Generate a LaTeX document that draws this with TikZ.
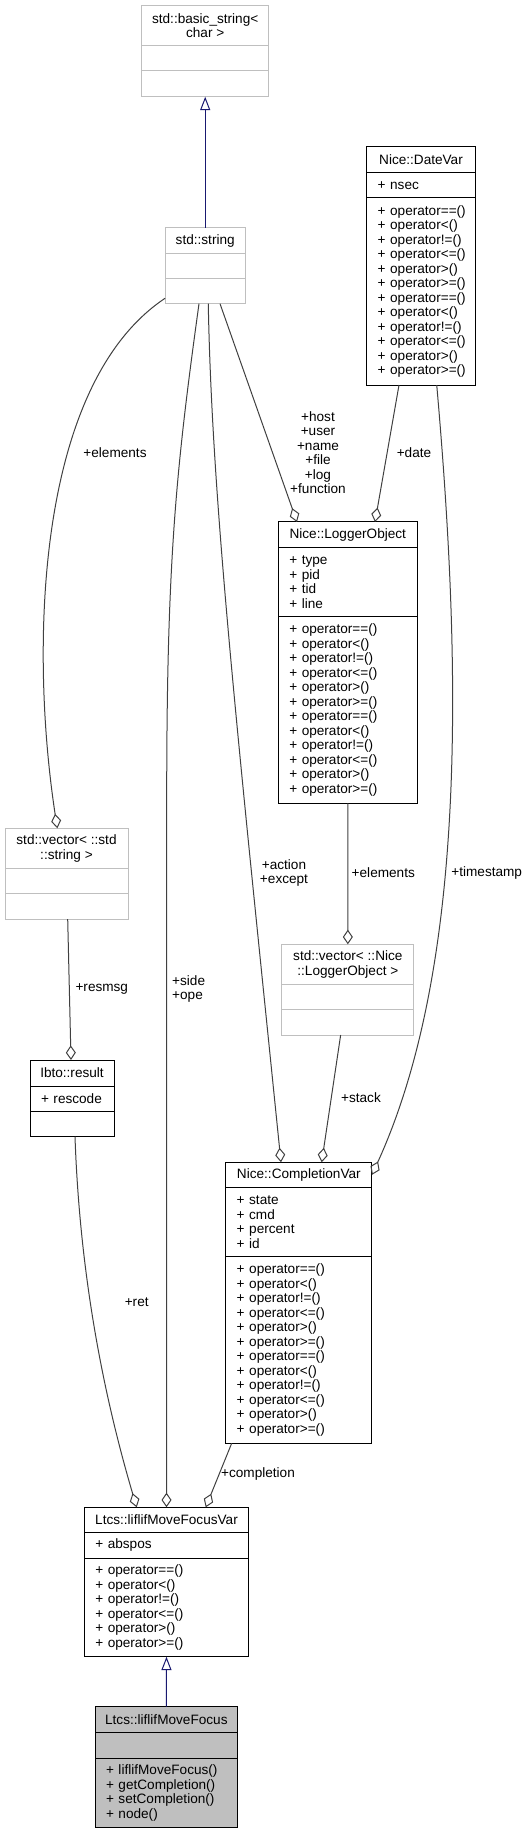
\documentclass[tikz,border=0pt]{standalone}
\usepackage{fontspec}
\setmainfont{Liberation Sans}
\usetikzlibrary{positioning,arrows.meta}

\definecolor{edgegray}{HTML}{404040}
\definecolor{boxgray}{HTML}{BFBFBF}
\definecolor{inhblue}{HTML}{191970}

\hyphenpenalty=10000
\newcommand{\cmpops}{\mbox{+ operator==()}\\\mbox{+ operator<()}\\\mbox{+ operator!=()}\\\mbox{+ operator<=()}\\\mbox{+ operator>()}\\\mbox{+ operator>=()}}

\tikzset{every picture/.style={line width=0.75pt}}
\tikzset{
  umltext/.style={font=\fontsize{10.2}{10.875}\selectfont},
  head/.style={umltext, draw=black, fill=white, align=center, inner sep=0pt, outer sep=0pt},
  part/.style={umltext, draw=black, fill=white, align=left, inner xsep=8.25pt, inner ysep=0pt, outer sep=0pt},
  ghead/.style={head, draw=boxgray},
  gpart/.style={part, draw=boxgray},
  member/.style={draw=edgegray, -{Diamond[open, length=11pt, width=7.5pt]}},
  inherit/.style={draw=inhblue, -{Triangle[open, length=10pt, width=7.5pt]}},
  lbl/.style={umltext, inner sep=0pt, align=center},
}

\begin{document}
\begin{tikzpicture}[x=0.75pt,y=0.75pt,yscale=-1,xscale=1]
\useasboundingbox (0,0) rectangle (528,1833);

%Shape: std::basic_string
\node[ghead, minimum width=95.25pt, minimum height=30.2pt] (bstr) at (205.2,25.85) {std::basic\_string<\\char >};
\node[gpart, minimum width=95.25pt, minimum height=18.75pt, below=0pt of bstr] (bstr-a) {};
\node[gpart, minimum width=95.25pt, minimum height=19.3pt, below=0pt of bstr-a] (bstr-o) {};

%Shape: std::string
\node[ghead, minimum width=60.2pt, minimum height=19.2pt] (str) at (205.2,240.5) {std::string};
\node[gpart, minimum width=60.2pt, minimum height=19.05pt, below=0pt of str] (str-a) {};
\node[gpart, minimum width=60.2pt, minimum height=18.75pt, below=0pt of str-a] (str-o) {};

%Shape: Nice::DateVar
\node[head, minimum width=81.45pt, minimum height=19.5pt] (date) at (421,159.7) {Nice::DateVar};
\node[part, text width=64.95pt, minimum height=18.75pt, below=0pt of date] (date-a) {+~nsec};
\node[part, text width=64.95pt, minimum height=140.5pt, below=0pt of date-a] (date-o) {\cmpops\\\cmpops};

%Shape: Nice::LoggerObject
\node[head, minimum width=104.25pt, minimum height=19pt] (logger) at (347.8,534.65) {Nice::LoggerObject};
\node[part, text width=87.75pt, minimum height=52.05pt, below=0pt of logger] (logger-a) {+~type\\+~pid\\+~tid\\+~line};
\node[part, text width=87.75pt, minimum height=140pt, below=0pt of logger-a] (logger-o) {\cmpops\\\cmpops};

%Shape: std::vector< ::std::string >
\node[ghead, minimum width=92.25pt, minimum height=30pt] (vstr) at (66.5,848.3) {std::vector< ::std\\::string >};
\node[gpart, minimum width=92.25pt, minimum height=19.05pt, below=0pt of vstr] (vstr-a) {};
\node[gpart, minimum width=92.25pt, minimum height=19pt, below=0pt of vstr-a] (vstr-o) {};

%Shape: std::vector< ::Nice::LoggerObject >
\node[ghead, minimum width=99.2pt, minimum height=30pt] (vlog) at (347.85,964.3) {std::vector< ::Nice\\::LoggerObject >};
\node[gpart, minimum width=99.2pt, minimum height=19.05pt, below=0pt of vlog] (vlog-a) {};
\node[gpart, minimum width=99.2pt, minimum height=19pt, below=0pt of vlog-a] (vlog-o) {};

%Shape: Ibto::result
\node[head, minimum width=63pt, minimum height=19.5pt] (result) at (72,1073) {Ibto::result};
\node[part, text width=46.5pt, minimum height=18.75pt, below=0pt of result] (result-a) {+~rescode};
\node[part, minimum width=63pt, minimum height=19.3pt, below=0pt of result-a] (result-o) {};

%Shape: Nice::CompletionVar
\node[head, minimum width=109.7pt, minimum height=18.75pt] (compl) at (298.85,1174.8) {Nice::CompletionVar};
\node[part, text width=93.2pt, minimum height=52.05pt, below=0pt of compl] (compl-a) {+~state\\+~cmd\\+~percent\\+~id};
\node[part, text width=93.2pt, minimum height=140pt, below=0pt of compl-a] (compl-o) {\cmpops\\\cmpops};

%Shape: Ltcs::liflifMoveFocusVar
\node[head, minimum width=123.3pt, minimum height=18.75pt] (var) at (166.5,1519.8) {Ltcs::liflifMoveFocusVar};
\node[part, text width=106.8pt, minimum height=19.5pt, below=0pt of var] (var-a) {+~abspos};
\node[part, text width=106.8pt, minimum height=73.8pt, below=0pt of var-a] (var-o) {\cmpops};

%Shape: Ltcs::liflifMoveFocus
\node[head, fill=boxgray, minimum width=107pt, minimum height=19.2pt] (focus) at (166.35,1719.5) {Ltcs::liflifMoveFocus};
\node[part, fill=boxgray, minimum width=107pt, minimum height=19.5pt, below=0pt of focus] (focus-a) {};
\node[part, fill=boxgray, text width=90.5pt, minimum height=51.75pt, below=0pt of focus-a] (focus-o) {+~liflifMoveFocus()\\+~getCompletion()\\+~setCompletion()\\+~node()};

%Straight Lines: inheritance
\draw[inherit] (str.north) -- (bstr-o.south);
\draw[inherit] (focus.north) -- (var-o.south);

%Straight Lines: members
\draw[member] ([xshift=11.1pt]str-o.south) -- ([xshift=-38.1pt]logger.north);
\draw[member] ([xshift=-16.5pt]date-o.south) -- ([xshift=20.4pt]logger.north);
\draw[member] (str-o.190) .. controls (35,385) and (30,650) .. ([xshift=-6.9pt]vstr.north);
\draw[member] ([xshift=0.9pt]vstr-o.south) -- ([xshift=-0.75pt]result.north);
\draw[member] ([xshift=-4.65pt]str-o.south) .. controls (176,470) and (166.7,560) .. (166.7,800) -- (var.north);
\draw[member] ([xshift=2.3pt]str-o.south) .. controls (212,500) and (236,720) .. ([xshift=-13.4pt]compl.north);
\draw[member] (logger-o.south) -- (vlog.north);
\draw[member] ([xshift=-5.4pt]vlog-o.south) -- ([xshift=17.1pt]compl.north);
\draw[member] ([xshift=11.8pt]date-o.south) .. controls (460,650) and (470,960) .. (compl.east);
\draw[member] ([xshift=2.25pt]result-o.south) .. controls (80,1280) and (105,1400) .. ([xshift=-22.35pt]var.north);
\draw[member] ([xshift=-50.4pt]compl-o.south) -- ([xshift=29.4pt]var.north);

% Text Node
\node[lbl] (l-host) at (318,452.5) {+host\\+user\\+name\\+file\\+log\\+function};
\node[lbl] (l-date) at (414,452.7) {+date};
\node[lbl] (l-elem) at (115,452.7) {+elements};
\node[lbl, anchor=west, align=left] (l-side) at (171.7,989) {+side\\+ope};
\node[lbl] (l-act) at (284,873) {+action\\+except};
\node[lbl] (l-lelem) at (383.3,872.7) {+elements};
\node[lbl] (l-time) at (486.7,872.7) {+timestamp};
\node[lbl] (l-resmsg) at (101.8,989) {+resmsg};
\node[lbl] (l-stack) at (361,1097.7) {+stack};
\node[lbl] (l-ret) at (136.7,1301.7) {+ret};
\node[lbl] (l-compl) at (258,1474.3) {+completion};

\end{tikzpicture}
\end{document}
